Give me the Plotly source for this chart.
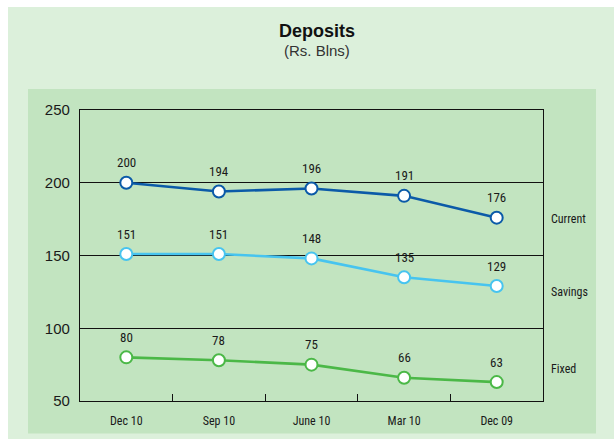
import plotly.graph_objects as go

# Quarter labels along the x axis (most recent first)
quarters = ["Dec 10", "Sep 10", "June 10", "Mar 10", "Dec 09"]

# Deposit balances, Rs. billions
current = [200, 194, 196, 191, 176]
savings = [151, 151, 148, 135, 129]
fixed = [80, 78, 75, 66, 63]

series_names = ["Current", "Savings", "Fixed"]
series_values = [current, savings, fixed]
series_colors = ["#0B5AA8", "#47C4EF", "#4BB847"]
# vertical placement of the series names to the right of the plot
name_positions = [175, 125, 72]

NARROW = "Liberation Sans Narrow, Arial Narrow, Roboto Condensed, sans-serif"
REGULAR = "Liberation Sans, Arial, sans-serif"

# plot area geometry in pixels (used to place the title and background panels)
W, H = 614, 439
L, R, T, B = 80, 71, 110, 38
PW, PH = W - L - R, H - T - B


def px_x(px):
    return (px - L) / PW


def px_y(py):
    return (H - B - py) / PH


fig = go.Figure()

annotations = []
for name, vals, color, ny in zip(series_names, series_values, series_colors, name_positions):
    fig.add_trace(go.Scatter(
        x=quarters, y=vals, mode="lines+markers", name=name,
        line=dict(color=color, width=2.6),
        marker=dict(size=12, color="white", line=dict(color=color, width=2)),
        showlegend=False, hoverinfo="x+y",
    ))
    for q, v in zip(quarters, vals):
        annotations.append(dict(
            x=q, y=v, xref="x", yref="y", text=str(v), showarrow=False,
            yshift=20, yanchor="middle", xanchor="center",
            font=dict(family=NARROW, size=13, color="#1a1a1a"),
        ))
    annotations.append(dict(
        x=1, y=ny, xref="paper", yref="y", text=name, showarrow=False,
        xanchor="left", yanchor="middle", xshift=6,
        font=dict(family=NARROW, size=12, color="#1a1a1a"),
    ))

# Title block
annotations.append(dict(
    x=px_x(317), y=px_y(31), xref="paper", yref="paper", text="<b>Deposits</b>",
    showarrow=False, xanchor="center", yanchor="middle",
    font=dict(family=REGULAR, size=18, color="#111111"),
))
annotations.append(dict(
    x=px_x(317), y=px_y(50), xref="paper", yref="paper", text="(Rs. Blns)",
    showarrow=False, xanchor="center", yanchor="middle",
    font=dict(family=REGULAR, size=15, color="#333333"),
))

shapes = [
    dict(type="rect", xref="paper", yref="paper", layer="below",
         x0=px_x(8), x1=px_x(620), y0=px_y(445), y1=px_y(7),
         fillcolor="#DCF0DB", line=dict(width=0)),
    dict(type="rect", xref="paper", yref="paper", layer="below",
         x0=px_x(28), x1=px_x(596), y0=px_y(433.5), y1=px_y(89),
         fillcolor="#C2E4C0", line=dict(width=0)),
]

fig.update_layout(
    width=W, height=H,
    margin=dict(l=L, r=R, t=T, b=B, pad=0),
    paper_bgcolor="white",
    plot_bgcolor="rgba(0,0,0,0)",
    shapes=shapes,
    annotations=annotations,
    xaxis=dict(
        type="category", range=[-0.5, 4.5],
        showgrid=False, zeroline=False,
        showline=True, linecolor="#111111", linewidth=1.2, mirror=True,
        ticks="inside", tickson="boundaries", ticklen=7, tickcolor="#111111", tickwidth=1.2,
        tickfont=dict(family=NARROW, size=12, color="#1a1a1a"),
        ticklabelstandoff=8,
    ),
    yaxis=dict(
        range=[50, 250], tickvals=[50, 100, 150, 200, 250],
        showgrid=True, gridcolor="#111111", gridwidth=1,
        zeroline=False,
        showline=True, linecolor="#111111", linewidth=1.2, mirror=True,
        ticks="", tickfont=dict(family=REGULAR, size=15, color="#1a1a1a"),
        ticklabelstandoff=6,
    ),
)

fig.write_html("out.html")
